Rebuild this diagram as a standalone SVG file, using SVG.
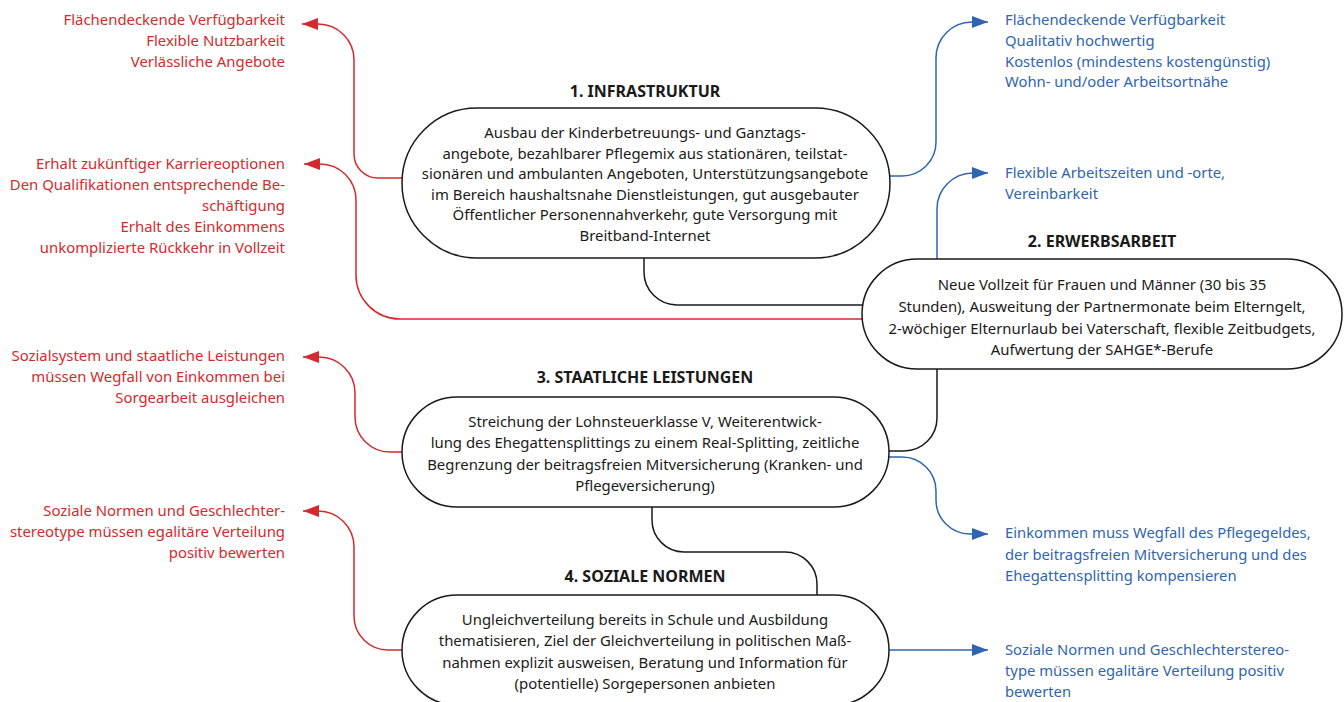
<svg xmlns="http://www.w3.org/2000/svg" width="1344" height="702" viewBox="0 0 1344 702">
<defs>
<style>
text{font-family:"Noto Sans","Open Sans","DejaVu Sans",sans-serif;font-size:14.9px}
.body{fill:#1a1a1a;text-anchor:middle}
.title{fill:#1a1a1a;font-weight:bold;text-anchor:middle;font-size:16px}
.red{fill:#d42a2e;text-anchor:end}
.blue{fill:#2f65b0;text-anchor:start;font-size:14.8px}
.node{fill:#fff;stroke:#1a1a1a;stroke-width:1.5}
.blk{fill:none;stroke:#1a1a1a;stroke-width:1.5}
.rc{fill:none;stroke:#d42a2e;stroke-width:1.5}
.bc{fill:none;stroke:#2f65b0;stroke-width:1.5}
</style>
<marker id="ar" markerUnits="userSpaceOnUse" markerWidth="18" markerHeight="14" refX="16" refY="6" orient="auto"><path d="M0,0 L16,6 L0,12 Z" fill="#d42a2e"/></marker>
<marker id="ab" markerUnits="userSpaceOnUse" markerWidth="18" markerHeight="14" refX="16" refY="6" orient="auto"><path d="M0,0 L16,6 L0,12 Z" fill="#2f65b0"/></marker>
</defs>
<rect width="1344" height="702" fill="#fff"/>

<g id="connectors">
<path class="blk" d="M644,258 V272 A33,33 0 0 0 677,305 H864"/>
<path class="blk" d="M937,369 V418 A33,33 0 0 1 904,451 H889"/>
<path class="blk" d="M652,507 V520 A32,32 0 0 0 684,552 H785 A32,32 0 0 1 817,584 V595"/>
<path class="rc" marker-end="url(#ar)" d="M402,178 H378 A24,24 0 0 1 354,154 V60 A36,36 0 0 0 318,24 H302"/>
<path class="rc" marker-end="url(#ar)" d="M864,319 H400 A44,44 0 0 1 356,275 V200 A36,36 0 0 0 320,164 H304"/>
<path class="rc" marker-end="url(#ar)" d="M402,452 H390 A35,35 0 0 1 355,417 V393 A36,36 0 0 0 319,357 H303"/>
<path class="rc" marker-end="url(#ar)" d="M402,650 H388 A34,34 0 0 1 354,616 V547 A36,36 0 0 0 318,511 H303"/>
<path class="bc" marker-end="url(#ab)" d="M890,176 H902 A34,34 0 0 0 936,142 V58 A36,36 0 0 1 972,22 H988"/>
<path class="bc" marker-end="url(#ab)" d="M937,259 V209 A36,36 0 0 1 973,173 H988"/>
<path class="bc" marker-end="url(#ab)" d="M889,457 H902 A34,34 0 0 1 936,491 V500 A34,34 0 0 0 970,534 H988"/>
<path class="bc" marker-end="url(#ab)" d="M889,650 H988"/>
</g>

<g id="node1">
<text class="title" x="645" y="97">1. INFRASTRUKTUR</text>
<rect class="node" x="402" y="108" width="488" height="150" rx="75"/>
<text class="body" x="645" y="138">Ausbau der Kinderbetreuungs- und Ganztags-</text>
<text class="body" x="645" y="158.6">angebote, bezahlbarer Pflegemix aus stationären, teilstat-</text>
<text class="body" x="645" y="179.2">sionären und ambulanten Angeboten, Unterstützungsangebote</text>
<text class="body" x="645" y="199.8">im Bereich haushaltsnahe Dienstleistungen, gut ausgebauter</text>
<text class="body" x="645" y="220.4">Öffentlicher Personennahverkehr, gute Versorgung mit</text>
<text class="body" x="645" y="241">Breitband-Internet</text>
</g>

<g id="node2">
<text class="title" x="1102" y="247">2. ERWERBSARBEIT</text>
<rect class="node" x="862" y="259" width="480" height="110" rx="55"/>
<text class="body" x="1102" y="290">Neue Vollzeit für Frauen und Männer (30 bis 35</text>
<text class="body" x="1102" y="312">Stunden), Ausweitung der Partnermonate beim Elterngelt,</text>
<text class="body" x="1102" y="334">2-wöchiger Elternurlaub bei Vaterschaft, flexible Zeitbudgets,</text>
<text class="body" x="1102" y="355">Aufwertung der SAHGE*-Berufe</text>
</g>

<g id="node3">
<text class="title" x="645" y="383">3. STAATLICHE LEISTUNGEN</text>
<rect class="node" x="402" y="397" width="487" height="110" rx="55"/>
<text class="body" x="645" y="427">Streichung der Lohnsteuerklasse V, Weiterentwick-</text>
<text class="body" x="645" y="448">lung des Ehegattensplittings zu einem Real-Splitting, zeitliche</text>
<text class="body" x="645" y="470">Begrenzung der beitragsfreien Mitversicherung (Kranken- und</text>
<text class="body" x="645" y="491">Pflegeversicherung)</text>
</g>

<g id="node4">
<text class="title" x="645" y="582">4. SOZIALE NORMEN</text>
<rect class="node" x="402" y="595" width="487" height="110" rx="55"/>
<text class="body" x="645" y="625">Ungleichverteilung bereits in Schule und Ausbildung</text>
<text class="body" x="645" y="646">thematisieren, Ziel der Gleichverteilung in politischen Maß-</text>
<text class="body" x="645" y="668">nahmen explizit ausweisen, Beratung und Information für</text>
<text class="body" x="645" y="689">(potentielle) Sorgepersonen anbieten</text>
</g>

<g id="red-labels">
<text class="red" x="285" y="25">Flächendeckende Verfügbarkeit</text>
<text class="red" x="285" y="46">Flexible Nutzbarkeit</text>
<text class="red" x="285" y="67">Verlässliche Angebote</text>
<text class="red" x="285" y="169">Erhalt zukünftiger Karriereoptionen</text>
<text class="red" x="285" y="190">Den Qualifikationen entsprechende Be-</text>
<text class="red" x="285" y="211">schäftigung</text>
<text class="red" x="285" y="232">Erhalt des Einkommens</text>
<text class="red" x="285" y="253">unkomplizierte Rückkehr in Vollzeit</text>
<text class="red" x="285" y="361">Sozialsystem und staatliche Leistungen</text>
<text class="red" x="285" y="382">müssen Wegfall von Einkommen bei</text>
<text class="red" x="285" y="403">Sorgearbeit ausgleichen</text>
<text class="red" x="285" y="516">Soziale Normen und Geschlechter-</text>
<text class="red" x="285" y="537">stereotype müssen egalitäre Verteilung</text>
<text class="red" x="285" y="558">positiv bewerten</text>
</g>

<g id="blue-labels">
<text class="blue" x="1005" y="25">Flächendeckende Verfügbarkeit</text>
<text class="blue" x="1005" y="46">Qualitativ hochwertig</text>
<text class="blue" x="1005" y="67">Kostenlos (mindestens kostengünstig)</text>
<text class="blue" x="1005" y="87">Wohn- und/oder Arbeitsortnähe</text>
<text class="blue" x="1005" y="178">Flexible Arbeitszeiten und -orte,</text>
<text class="blue" x="1005" y="199">Vereinbarkeit</text>
<text class="blue" x="1005" y="538">Einkommen muss Wegfall des Pflegegeldes,</text>
<text class="blue" x="1005" y="560">der beitragsfreien Mitversicherung und des</text>
<text class="blue" x="1005" y="581">Ehegattensplitting kompensieren</text>
<text class="blue" x="1005" y="655">Soziale Normen und Geschlechterstereo-</text>
<text class="blue" x="1005" y="676">type müssen egalitäre Verteilung positiv</text>
<text class="blue" x="1005" y="697">bewerten</text>
</g>
</svg>
